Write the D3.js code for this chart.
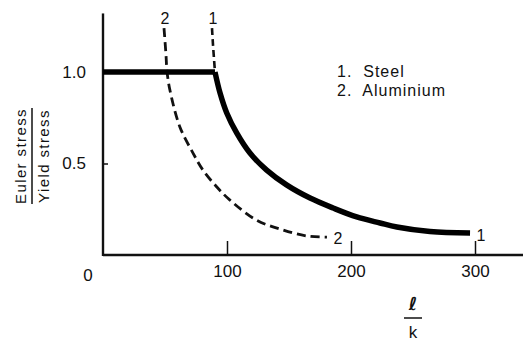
<!DOCTYPE html>
<html lang="en">
  <head>
    <script src="https://d3js.org/d3.v7.min.js"></script>
    <style>
      body { margin: 0; background: #fff; }
      text { font-family: "Liberation Sans", Arial, sans-serif; fill: #111; }
    </style>
  </head>
  <body>
    <script>
      // chart values
      var xTicks = [100, 200, 300];
      var yTicks = [0.5, 1.0];
      var yTickLabels = ["0.5", "1.0"];

      // steel: flat at yield then Euler curve
      var steelX = [90.3, 94.4, 99.8, 107.8, 118.5, 132, 148, 167, 185.5, 204.6, 223.4, 237, 263.7, 296];
      var steelY = [1.0, 0.885, 0.776, 0.667, 0.557, 0.464, 0.383, 0.311, 0.257, 0.208, 0.175, 0.153, 0.128, 0.12];
      // steel Euler curve above yield (dashed)
      var steelUpX = [87.9, 88.7, 90.3];
      var steelUpY = [1.24, 1.15, 1.0];
      // aluminium (dashed)
      var alX = [49.2, 50.8, 51.6, 54, 62, 72.6, 80.6, 92, 102.4, 124, 145, 164.5, 180.6];
      var alY = [1.24, 1.093, 1.005, 0.9, 0.7, 0.557, 0.464, 0.37, 0.3, 0.19, 0.137, 0.104, 0.098];

      var legend = ["1.  Steel", "2.  Aluminium"];

      var width = 523,
        height = 341;

      var svg = d3
        .select("body")
        .append("svg")
        .attr("width", width)
        .attr("height", height);

      var x = d3.scaleLinear().domain([0, 300]).range([103, 475]);
      var y = d3.scaleLinear().domain([0, 1]).range([255, 72]);
      var yTop = 1.32;

      function pts(xs, ys) {
        return xs.map(function (d, i) {
          return [d, ys[i]];
        });
      }

      var line = d3
        .line()
        .x(function (d) { return x(d[0]); })
        .y(function (d) { return y(d[1]); })
        .curve(d3.curveCatmullRom.alpha(0.5));

      // x axis
      var xAxis = svg
        .append("g")
        .attr("transform", "translate(0," + y(0) + ")")
        .call(
          d3.axisBottom(x).tickValues(xTicks).tickSizeInner(-14).tickSizeOuter(0).tickPadding(10)
        );
      xAxis.select(".domain").remove();
      xAxis.selectAll(".tick line").attr("stroke", "#111").attr("stroke-width", 1.5);
      xAxis.selectAll("text").attr("font-size", 17).style("font-family", null);

      svg
        .append("line")
        .attr("x1", x(0))
        .attr("x2", width)
        .attr("y1", y(0))
        .attr("y2", y(0))
        .attr("stroke", "#111")
        .attr("stroke-width", 2.4);

      // y axis
      var yAxis = svg
        .append("g")
        .attr("transform", "translate(" + x(0) + ",0)")
        .call(
          d3
            .axisLeft(y)
            .tickValues(yTicks)
            .tickFormat(function (d, i) { return yTickLabels[i]; })
            .tickSizeInner(-5)
            .tickSizeOuter(0)
            .tickPadding(17)
        );
      yAxis.select(".domain").remove();
      yAxis.selectAll(".tick line").attr("stroke", "#111").attr("stroke-width", 1.5);
      yAxis.selectAll("text").attr("font-size", 17).style("font-family", null);

      svg
        .append("line")
        .attr("x1", x(0))
        .attr("x2", x(0))
        .attr("y1", y(0) + 1)
        .attr("y2", y(yTop))
        .attr("stroke", "#111")
        .attr("stroke-width", 2.4);

      // origin label
      svg
        .append("text")
        .attr("x", x(0) - 15)
        .attr("y", y(0) + 26)
        .attr("text-anchor", "middle")
        .attr("font-size", 17)
        .text("0");

      // curves
      svg
        .append("path")
        .attr("d", line(pts(alX, alY)))
        .attr("fill", "none")
        .attr("stroke", "#111")
        .attr("stroke-width", 2.8)
        .attr("stroke-dasharray", "9,5");

      svg
        .append("path")
        .attr("d", line(pts(steelUpX, steelUpY)))
        .attr("fill", "none")
        .attr("stroke", "#111")
        .attr("stroke-width", 2.6)
        .attr("stroke-dasharray", "7,4");

      svg
        .append("path")
        .attr(
          "d",
          d3.line().x(function (d) { return x(d[0]); }).y(function (d) { return y(d[1]); })([
            [0, steelY[0]],
            [steelX[0], steelY[0]]
          ])
        )
        .attr("fill", "none")
        .attr("stroke", "#000")
        .attr("stroke-width", 5.5);

      svg
        .append("path")
        .attr("d", line(pts(steelX, steelY)))
        .attr("fill", "none")
        .attr("stroke", "#000")
        .attr("stroke-width", 5.5)
        .attr("stroke-linejoin", "round");

      // curve end labels
      var n = steelX.length - 1,
        m = alX.length - 1;
      var ends = [
        { t: "1", px: x(steelUpX[0]) + 1, py: y(yTop) + 11 },
        { t: "2", px: x(alX[0]) + 1, py: y(yTop) + 11 },
        { t: "1", px: x(steelX[n]) + 11, py: y(steelY[n]) + 8 },
        { t: "2", px: x(alX[m]) + 11, py: y(alY[m]) + 7 }
      ];
      svg
        .selectAll(".endlab")
        .data(ends)
        .join("text")
        .attr("class", "endlab")
        .attr("x", function (d) { return d.px; })
        .attr("y", function (d) { return d.py; })
        .attr("text-anchor", "middle")
        .attr("font-size", 16)
        .text(function (d) { return d.t; });

      // legend
      svg
        .selectAll(".leg")
        .data(legend)
        .join("text")
        .attr("class", "leg")
        .attr("x", 337)
        .attr("y", function (d, i) { return 77 + i * 19; })
        .attr("font-size", 16)
        .attr("xml:space", "preserve")
        .style("white-space", "pre")
        .style("letter-spacing", "1px")
        .text(function (d) { return d; });

      // y axis title as fraction
      var yt = svg.append("g").attr("transform", "translate(32,156) rotate(-90)");
      yt.append("text")
        .attr("x", 0)
        .attr("y", -6)
        .attr("text-anchor", "middle")
        .attr("font-size", 15)
        .style("letter-spacing", "1.4px")
        .text("Euler stress");
      yt.append("line")
        .attr("x1", -48)
        .attr("x2", 48)
        .attr("y1", 0)
        .attr("y2", 0)
        .attr("stroke", "#111")
        .attr("stroke-width", 1.5);
      yt.append("text")
        .attr("x", 0)
        .attr("y", 17)
        .attr("text-anchor", "middle")
        .attr("font-size", 15)
        .style("letter-spacing", "1.4px")
        .text("Yield stress");

      // x axis title as fraction l / k
      var xt = svg.append("g").attr("transform", "translate(413,318)");
      xt.append("text")
        .attr("x", 0)
        .attr("y", -8)
        .attr("text-anchor", "middle")
        .attr("font-size", 18)
        .attr("font-weight", "bold")
        .style("font-family", "'DejaVu Sans', sans-serif")
        .text("ℓ");
      xt.append("line")
        .attr("x1", -9)
        .attr("x2", 9)
        .attr("y1", 0)
        .attr("y2", 0)
        .attr("stroke", "#111")
        .attr("stroke-width", 1.5);
      xt.append("text")
        .attr("x", 0)
        .attr("y", 20)
        .attr("text-anchor", "middle")
        .attr("font-size", 17)
        .text("k");
    </script>
  </body>
</html>
